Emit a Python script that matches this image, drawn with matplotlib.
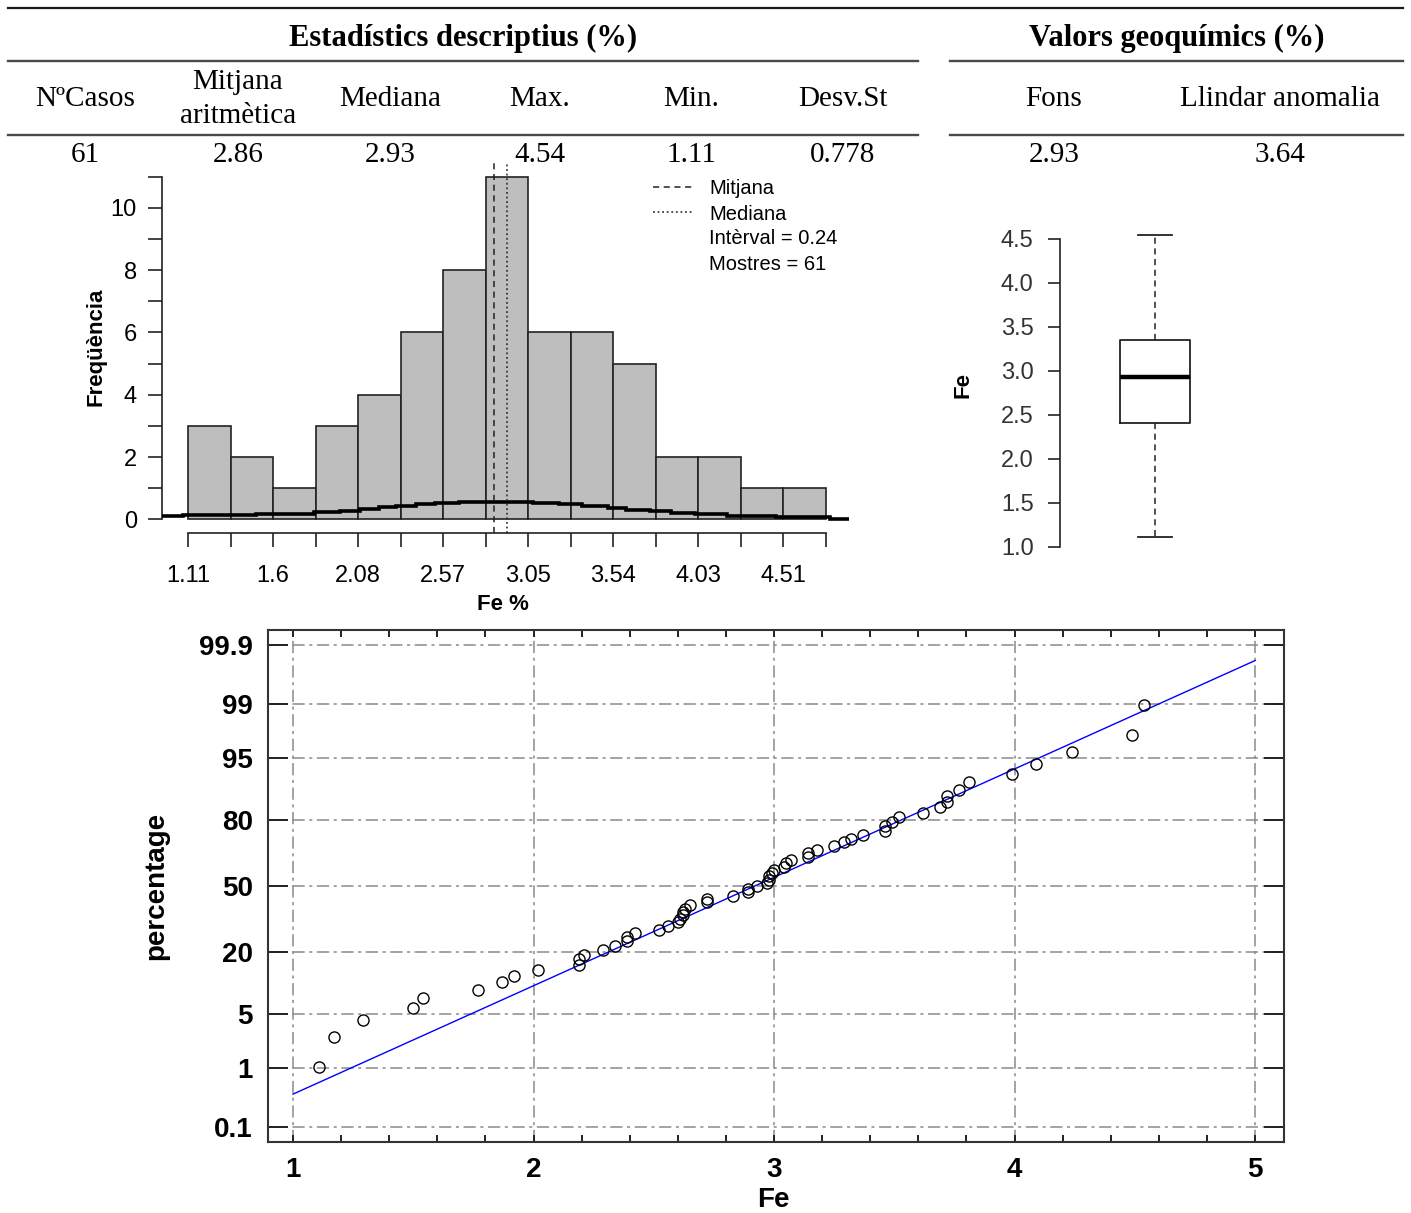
import numpy as np
import matplotlib
matplotlib.use('Agg')
import matplotlib.pyplot as plt
from matplotlib.ticker import MultipleLocator
from statistics import NormalDist

# Fe (%) per sample, sorted ascending (61 samples)
fe = [1.11, 1.17, 1.29, 1.50, 1.54, 1.77, 1.87, 1.92, 2.02, 2.19,
      2.19, 2.21, 2.29, 2.34, 2.39, 2.39, 2.42, 2.52, 2.56, 2.60,
      2.61, 2.62, 2.62, 2.63, 2.65, 2.72, 2.72, 2.83, 2.89, 2.89,
      2.93, 2.97, 2.98, 2.98, 2.99, 3.00, 3.04, 3.05, 3.07, 3.14,
      3.14, 3.18, 3.25, 3.29, 3.32, 3.37, 3.46, 3.46, 3.49, 3.52,
      3.62, 3.69, 3.72, 3.72, 3.77, 3.81, 3.99, 4.09, 4.24, 4.49,
      4.54]

# summary table
group_titles = ['Estadístics descriptius (%)', 'Valors geoquímics (%)']
stat_names = ['NºCasos', 'Mitjana\naritmètica', 'Mediana', 'Max.', 'Min.', 'Desv.St']
stat_values = ['61', '2.86', '2.93', '4.54', '1.11', '0.778']
geo_names = ['Fons', 'Llindar anomalia']
geo_values = ['2.93', '3.64']

n_samples = 61
fe_mean = 2.86
fe_median = 2.93
fe_min = 1.11
fe_max = 4.54
fe_q1 = 2.40
fe_q3 = 3.35

# histogram
bin_start = 1.11
bin_width = 0.243
hist_counts = [3, 2, 1, 3, 4, 6, 8, 11, 6, 6, 5, 2, 2, 1, 1]

# density overlay drawn as steps
dens_edges = [0.96, 1.08, 1.50, 1.83, 1.98, 2.09, 2.20, 2.30, 2.41, 2.52, 2.66, 3.08,
              3.23, 3.36, 3.51, 3.61, 3.75, 3.87, 4.01, 4.19, 4.47, 4.78, 4.89]
dens_vals = [0.09, 0.14, 0.18, 0.23, 0.28, 0.34, 0.39, 0.43, 0.49, 0.52, 0.57,
             0.52, 0.48, 0.42, 0.36, 0.31, 0.26, 0.20, 0.16, 0.11, 0.07, 0.02]

# normal probability plot
ref_center = 2.92
ref_sd = 0.72
ref_range = [1, 5]
prob_ticks = [0.1, 1, 5, 20, 50, 80, 95, 99, 99.9]

W, H = 1411, 1213
plt.rcParams['font.family'] = ['Liberation Sans', 'DejaVu Sans']
serif = ['Liberation Serif', 'DejaVu Serif']
fig = plt.figure(figsize=(W / 100, H / 100), dpi=100)


def px_axes(left, top, right, bottom):
    return fig.add_axes([left / W, 1 - bottom / H, (right - left) / W, (bottom - top) / H])


# ---- table header (pixel coordinates) ----
ax_t = fig.add_axes([0, 0, 1, 1])
ax_t.set_xlim(0, W)
ax_t.set_ylim(H, 0)
ax_t.axis('off')
ax_t.plot([8, 1403], [8, 8], color='#1a1a1a', lw=1.6)
for y in (61, 135):
    ax_t.plot([8, 918], [y, y], color='#4a4a4a', lw=1.7)
    ax_t.plot([950, 1403], [y, y], color='#4a4a4a', lw=1.7)

ax_t.text(463, 38, group_titles[0], family=serif, fontsize=22, fontweight='bold',
          ha='center', va='center')
ax_t.text(1177, 38, group_titles[1], family=serif, fontsize=22, fontweight='bold',
          ha='center', va='center')
stat_x = [85, 238, 390, 540, 691, 843]
for x, name, val in zip(stat_x, stat_names, stat_values):
    ax_t.text(x, 99, name, family=serif, fontsize=21, ha='center', va='center', linespacing=1.38)
    ax_t.text(x, 155, val, family=serif, fontsize=21, ha='center', va='center')
geo_x = [1054, 1280]
for x, name, val in zip(geo_x, geo_names, geo_values):
    ax_t.text(x, 99, name, family=serif, fontsize=21, ha='center', va='center')
    ax_t.text(x, 155, val, family=serif, fontsize=21, ha='center', va='center')

# ---- histogram ----
ax_h = px_axes(162, 163, 850, 533)
ax_h.patch.set_alpha(0)
edges = bin_start + bin_width * np.arange(len(hist_counts) + 1)
ax_h.bar(edges[:-1], hist_counts, width=bin_width, align='edge',
         color='#bebebe', edgecolor='#222222', lw=1.2, zorder=1)
ax_h.stairs(dens_vals, dens_edges, color='black', lw=2.6, baseline=None, zorder=3)
ax_h.axvline(fe_mean, color='#222222', lw=1.1, ls=(0, (4, 3)), zorder=4)
ax_h.axvline(fe_median, color='#222222', lw=1.1, ls=(0, (1.2, 1.8)), zorder=4)
ax_h.set_xlim(0.961, 4.893)
ax_h.set_ylim(-0.44, 11.44)
for s in ('top', 'right'):
    ax_h.spines[s].set_visible(False)
ax_h.spines['left'].set_bounds(0, 11)
ax_h.spines['bottom'].set_bounds(edges[0], edges[-1])
for s in ('left', 'bottom'):
    ax_h.spines[s].set_linewidth(1.2)
    ax_h.spines[s].set_color('#222222')
ax_h.set_xticks(edges)
ax_h.set_xticklabels([f'{round(e, 2):g}' if i % 2 == 0 else '' for i, e in enumerate(edges)])
ax_h.set_yticks(range(0, 12))
ax_h.set_yticklabels([str(v) if v % 2 == 0 else '' for v in range(12)])
ax_h.tick_params(axis='x', length=10, width=1.2, pad=13, labelsize=17, color='#222222')
ax_h.tick_params(axis='y', length=10, width=1.2, pad=8, labelsize=17, color='#222222')
ax_h.set_ylabel('Freqüència', fontsize=16, fontweight='bold')
ax_h.yaxis.set_label_coords(-0.081, 0.503)
ax_h.set_xlabel('Fe %', fontsize=16, fontweight='bold')
ax_h.xaxis.set_label_coords(0.496, -0.166)

# legend entries
ax_t.plot([653, 692], [187, 187], color='#222222', lw=1.1, ls=(0, (4, 3)))
ax_t.plot([653, 692], [212, 212], color='#222222', lw=1.1, ls=(0, (1.2, 1.8)))
legend_text = ['Mitjana', 'Mediana', f'Intèrval = {bin_width:.2f}', f'Mostres = {n_samples}']
for i, t in enumerate(legend_text):
    ax_t.text(709, 189 + 25 * i, t, fontsize=14.5, ha='left', va='center')

# ---- boxplot ----
ax_b = px_axes(1060, 223, 1250, 549)
ax_b.patch.set_alpha(0)
stats = [dict(med=fe_median, q1=fe_q1, q3=fe_q3, whislo=fe_min, whishi=fe_max, fliers=[])]
ax_b.bxp(stats, positions=[1], widths=0.37, capwidths=0.18, showfliers=False,
         boxprops=dict(color='#222222', lw=1.3),
         medianprops=dict(color='black', lw=3.2, solid_capstyle='butt'),
         whiskerprops=dict(color='#222222', lw=1.1, ls=(0, (4, 3))),
         capprops=dict(color='#222222', lw=1.3))
ax_b.set_xlim(0.5, 1.5)
ax_b.set_ylim(0.973, 4.677)
ax_b.set_xticks([])
for s in ('top', 'right', 'bottom'):
    ax_b.spines[s].set_visible(False)
ax_b.spines['left'].set_bounds(1.0, 4.5)
ax_b.spines['left'].set_linewidth(1.2)
ax_b.spines['left'].set_color('#222222')
box_ticks = np.arange(1.0, 4.51, 0.5)
ax_b.set_yticks(box_ticks)
ax_b.set_yticklabels([f'{v:.1f}' for v in box_ticks])
ax_b.tick_params(axis='y', length=9, width=1.2, pad=10, labelsize=17,
                 color='#222222', labelcolor='#333333')
ax_b.set_ylabel('Fe', fontsize=16, fontweight='bold')
ax_b.yaxis.set_label_coords(-0.453, 0.503)

# ---- normal probability plot ----
ax_q = px_axes(268, 630, 1284, 1142)
nd = NormalDist()
z = [nd.inv_cdf((i + 1 - 0.375) / (len(fe) + 0.25)) for i in range(len(fe))]
ref_x = np.array(ref_range, dtype=float)
ax_q.plot(ref_x, (ref_x - ref_center) / ref_sd, color='#0000ff', lw=1.0, zorder=2)
ax_q.plot(fe, z, 'o', mfc='none', mec='black', ms=8, mew=1.0, zorder=3)
ax_q.set_xlim(0.896, 5.12)
ax_q.set_ylim(-3.28, 3.28)
ax_q.set_xticks([1, 2, 3, 4, 5])
ax_q.xaxis.set_minor_locator(MultipleLocator(0.2))
ax_q.set_yticks([nd.inv_cdf(p / 100) for p in prob_ticks])
ax_q.set_yticklabels([f'{p:g}' for p in prob_ticks])
ax_q.set_axisbelow(True)
ax_q.grid(True, which='major', color='#8a8a8a', lw=1.1, ls=(0, (8, 3, 2, 3)))
for s in ax_q.spines.values():
    s.set_linewidth(1.5)
    s.set_color('#333333')
ax_q.tick_params(which='both', direction='in', top=True, right=True, color='#222222', width=1.4)
ax_q.tick_params(axis='y', which='major', length=14.5, pad=11)
ax_q.tick_params(axis='x', which='major', length=5, pad=11)
ax_q.tick_params(axis='x', which='minor', length=5)
for lab in ax_q.get_xticklabels() + ax_q.get_yticklabels():
    lab.set_fontsize(20)
    lab.set_fontweight('bold')
ax_q.set_xlabel('Fe', fontsize=20, fontweight='bold')
ax_q.xaxis.set_label_coords(0.497, -0.087)
ax_q.set_ylabel('percentage', fontsize=20, fontweight='bold')
ax_q.yaxis.set_label_coords(-0.0974, 0.5)

fig.savefig('out.png', dpi=100)
